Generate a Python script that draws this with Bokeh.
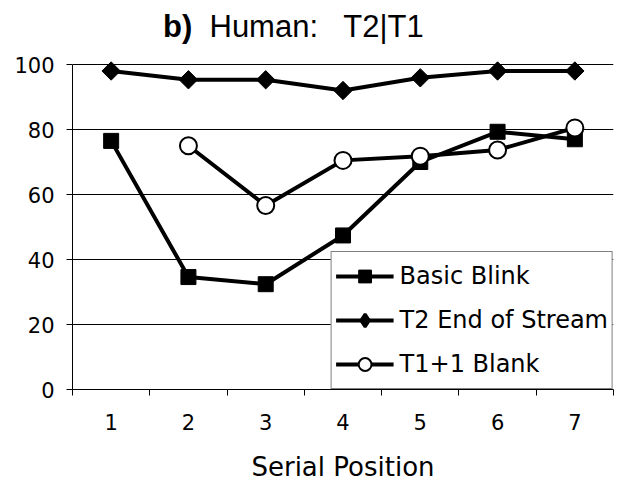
import math
from bokeh.plotting import figure
from bokeh.layouts import column
from bokeh.models import Range1d, FixedTicker, Legend, LegendItem, Div
from bokeh.embed import file_html
from bokeh.resources import INLINE

positions = [1, 2, 3, 4, 5, 6, 7]
tick_labels = ["1", "2", "3", "4", "5", "6", "7"]
basic_blink = [76.5, 34.6, 32.4, 47.4, 70.0, 79.3, 77.0]
t2_end_of_stream = [98.0, 95.3, 95.3, 92.0, 95.9, 98.0, 98.0]
t1_blank = [math.nan, 75.0, 56.6, 70.5, 71.8, 73.7, 80.5]
series_names = ["Basic Blink", "T2 End of Stream", "T1+1 Blank"]
y_ticks = [0, 20, 40, 60, 80, 100]

title = Div(
    text='<div style="font-family:\'Liberation Sans\',Arial,sans-serif; font-size:31px; '
         'line-height:31px; padding:11px 0 0 163px; white-space:pre; color:black; margin:0">'
         '<b>b)</b>  Human:   T2|T1</div>',
    width=622, height=46, margin=0)

p = figure(width=622, height=438, output_backend="svg", toolbar_location=None,
           x_range=Range1d(0.5, 7.5), y_range=Range1d(0, 104),
           min_border_left=72, min_border_right=9, min_border_top=5, min_border_bottom=95,
           margin=0)
p.outline_line_color = None
p.background_fill_color = "white"
p.border_fill_color = "white"

# axes
p.xaxis.ticker = FixedTicker(ticks=positions, minor_ticks=[i + 0.5 for i in range(0, 8)])
p.xaxis.major_label_overrides = {i: s for i, s in zip(positions, tick_labels)}
p.xaxis.major_tick_out = 0
p.xaxis.major_tick_in = 0
p.xaxis.minor_tick_out = 6
p.xaxis.minor_tick_in = 0
p.xaxis.minor_tick_line_color = "black"
p.xaxis.axis_label = "Serial Position"
p.yaxis.ticker = FixedTicker(ticks=y_ticks)
p.yaxis.bounds = (0, 100)
p.yaxis.major_tick_out = 6
p.yaxis.major_tick_in = 0
p.yaxis.minor_tick_line_color = None
for ax in (p.xaxis, p.yaxis):
    ax.axis_line_color = "black"
    ax.axis_line_width = 1
    ax.major_tick_line_color = "black"
    ax.major_label_text_font = "DejaVu Sans"
    ax.major_label_text_font_size = "21px"
    ax.major_label_text_color = "black"
    ax.axis_label_text_font = "DejaVu Sans"
    ax.axis_label_text_font_size = "26px"
    ax.axis_label_text_font_style = "normal"
    ax.axis_label_text_color = "black"
p.xaxis.major_label_standoff = 18
p.xaxis.axis_label_standoff = 19
p.yaxis.major_label_standoff = 12

p.xgrid.grid_line_color = None
p.ygrid.grid_line_color = "black"
p.ygrid.grid_line_width = 1
p.ygrid.ticker = FixedTicker(ticks=y_ticks)

# series
r1l = p.line(positions, basic_blink, line_color="black", line_width=4)
r1m = p.scatter(positions, basic_blink, marker="square", size=15, fill_color="black", line_color="black")
r2l = p.line(positions, t2_end_of_stream, line_color="black", line_width=4)
r2m = p.scatter(positions, t2_end_of_stream, marker="square", angle=math.pi / 4, size=13,
                fill_color="black", line_color="black")
r3l = p.line(positions, t1_blank, line_color="black", line_width=4)
r3m = p.scatter(positions, t1_blank, marker="circle", size=17, fill_color="white",
                line_color="black", line_width=2)

# legend-only diamond (legend ignores marker angle)
d_line = p.line([math.nan], [math.nan], line_color="black", line_width=4)
d_mark = p.scatter([math.nan], [math.nan], marker="diamond", size=12, fill_color="black",
                   line_color="black", line_width=3)

legend = Legend(items=[
    LegendItem(label=series_names[0], renderers=[r1l, r1m]),
    LegendItem(label=series_names[1], renderers=[d_line, d_mark]),
    LegendItem(label=series_names[2], renderers=[r3l, r3m]),
], location="bottom_right")
legend.border_line_color = "black"
legend.border_line_width = 1
legend.background_fill_color = "white"
legend.background_fill_alpha = 1
legend.label_text_font = "DejaVu Sans"
legend.label_text_font_size = "24px"
legend.label_text_color = "black"
legend.glyph_width = 58
legend.glyph_height = 32
legend.label_height = 40
legend.label_standoff = 6
legend.spacing = 4
legend.padding = 4
legend.margin = 0
p.add_layout(legend, "center")

layout = column(title, p, spacing=0, margin=0)
open("out.html", "w").write(file_html(layout, INLINE))
